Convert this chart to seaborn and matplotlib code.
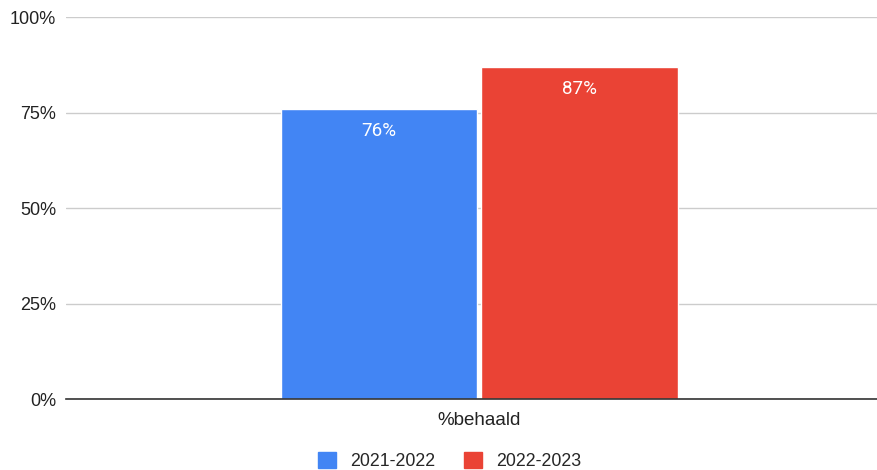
import matplotlib
matplotlib.use("Agg")
import matplotlib.pyplot as plt
import seaborn as sns
import pandas as pd
from matplotlib.patches import Patch

categories = ["%behaald"]
seasons = ["2021-2022", "2022-2023"]
values = [0.76, 0.87]
colors = ["#4285F4", "#EA4335"]
y_ticks = [0, 0.25, 0.5, 0.75, 1.0]
y_tick_labels = ["0%", "25%", "50%", "75%", "100%"]

df = pd.DataFrame({
    "categorie": categories * len(seasons),
    "seizoen": seasons,
    "waarde": values,
})

sns.set_theme(style="white")
plt.rcParams['font.family'] = ['Liberation Sans', 'DejaVu Sans']

fig = plt.figure(figsize=(8.78, 4.70), dpi=100)
ax = fig.add_axes([0.0752, 0.151, 0.9248, 0.8128])

sns.barplot(data=df, x="categorie", y="waarde", hue="seizoen",
            palette=colors, width=0.815, gap=0.02, ax=ax, legend=False,
            saturation=1)

for patch, v in zip(ax.patches, values):
    x = patch.get_x() + patch.get_width() / 2
    ax.text(x, patch.get_height() - 0.058, f"{v:.0%}", ha="center", va="center",
            color="white", fontsize=13.5, family=["Roboto", "DejaVu Sans"])

ax.set_ylim(0, 1.0)
ax.set_xlim(-0.839, 0.810)
ax.set_yticks(y_ticks)
ax.set_yticklabels(y_tick_labels, fontsize=13, color="#222222")
ax.tick_params(axis="x", labelsize=13.5, colors="#222222", length=0, pad=9)
ax.tick_params(axis="y", length=0, pad=7)
ax.grid(axis="y", color="#cccccc", linewidth=1)
ax.set_axisbelow(True)
ax.set_xlabel("")
ax.set_ylabel("")
for s in ["top", "right", "left"]:
    ax.spines[s].set_visible(False)
ax.spines["bottom"].set_color("#333333")
ax.spines["bottom"].set_linewidth(1.2)
ax.spines["bottom"].set_zorder(5)

handles = [Patch(facecolor=c, edgecolor=c, label=s) for s, c in zip(seasons, colors)]
fig.legend(handles=handles, loc="lower center", bbox_to_anchor=(0.512, -0.035),
           ncol=2, frameon=False, fontsize=12.8, handlelength=1.0, handleheight=1.0,
           columnspacing=1.6, handletextpad=0.8)

fig.savefig("out.png", dpi=100)
